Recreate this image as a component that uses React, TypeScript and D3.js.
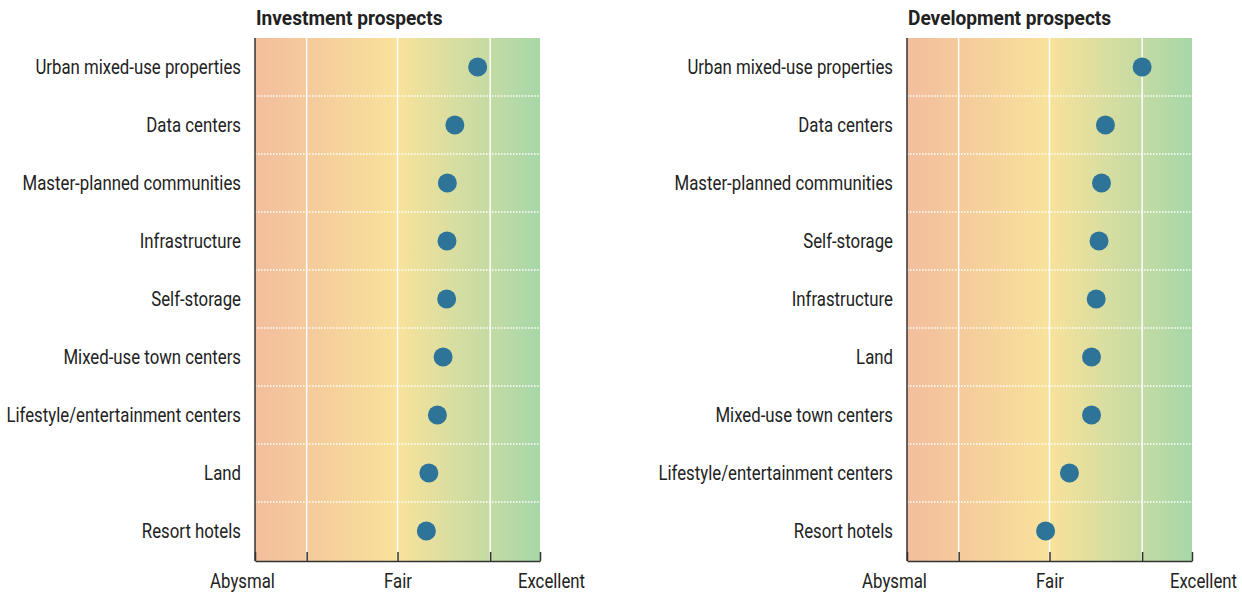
import React, { useEffect, useRef } from 'react';
import * as d3 from 'd3';

const investmentCategories = [
  'Urban mixed-use properties',
  'Data centers',
  'Master-planned communities',
  'Infrastructure',
  'Self-storage',
  'Mixed-use town centers',
  'Lifestyle/entertainment centers',
  'Land',
  'Resort hotels',
];
const investmentValues = [7.25, 6.61, 6.4, 6.39, 6.38, 6.28, 6.12, 5.88, 5.81];

const developmentCategories = [
  'Urban mixed-use properties',
  'Data centers',
  'Master-planned communities',
  'Self-storage',
  'Infrastructure',
  'Land',
  'Mixed-use town centers',
  'Lifestyle/entertainment centers',
  'Resort hotels',
];
const developmentValues = [7.6, 6.57, 6.46, 6.39, 6.31, 6.18, 6.18, 5.56, 4.89];

const tickValues = [1, 2.45, 5, 7.6, 9];
const tickLabels = ['Abysmal', '', 'Fair', '', 'Excellent'];
const gridValues = [2.45, 5, 7.6];

const FONT = 'Roboto, "DejaVu Sans", sans-serif';
const SQUEEZE = 0.84; // the original uses a condensed face

const panels = [
  { title: 'Investment prospects', categories: investmentCategories, values: investmentValues, x0: 255, id: 'inv' },
  { title: 'Development prospects', categories: developmentCategories, values: developmentValues, x0: 907, id: 'dev' },
];

function App() {
  const svgRef = useRef<SVGSVGElement>(null);

  useEffect(() => {
    const svg = d3.select(svgRef.current);
    svg.selectAll('*').remove();

    const plotW = 285;
    const top = 38;
    const bottom = 561;

    panels.forEach(p => {
      const x = d3.scaleLinear().domain([1, 9]).range([p.x0, p.x0 + plotW]);
      const y = d3.scaleBand().domain(p.categories).range([top, bottom - 1]);

      const grad = svg.append('defs').append('linearGradient')
        .attr('id', 'grad-' + p.id)
        .attr('x1', '0%').attr('x2', '100%').attr('y1', '0%').attr('y2', '0%');
      grad.append('stop').attr('offset', '0%').attr('stop-color', '#f3be9d');
      grad.append('stop').attr('offset', '25%').attr('stop-color', '#f5cf9c');
      grad.append('stop').attr('offset', '50%').attr('stop-color', '#f8e29b');
      grad.append('stop').attr('offset', '100%').attr('stop-color', '#a7d7a8');

      const g = svg.append('g');

      g.append('rect')
        .attr('x', x(1)).attr('y', top)
        .attr('width', x(9) - x(1)).attr('height', bottom - top)
        .attr('fill', `url(#grad-${p.id})`);

      // vertical gridlines
      g.selectAll('.vgrid')
        .data(gridValues)
        .enter()
        .append('line')
        .attr('x1', d => x(d)).attr('x2', d => x(d))
        .attr('y1', top).attr('y2', bottom)
        .attr('stroke', '#fff')
        .attr('stroke-width', 1.5);

      // dotted row separators
      g.selectAll('.hgrid')
        .data(p.categories.slice(1))
        .enter()
        .append('line')
        .attr('x1', x(1)).attr('x2', x(9))
        .attr('y1', d => y(d)!).attr('y2', d => y(d)!)
        .attr('stroke', '#fff')
        .attr('stroke-width', 1.3)
        .attr('stroke-dasharray', '1.5,1.5');

      // left axis line
      g.append('line')
        .attr('x1', x(1)).attr('x2', x(1))
        .attr('y1', top).attr('y2', bottom)
        .attr('stroke', '#333')
        .attr('stroke-width', 1.5);

      // bottom axis
      const axis = d3.axisBottom(x)
        .tickValues(tickValues)
        .tickFormat((d, i) => tickLabels[i])
        .tickSizeInner(-9)
        .tickSizeOuter(0)
        .tickPadding(13);

      const ag = g.append('g')
        .attr('transform', `translate(0,${bottom})`)
        .call(axis);
      ag.select('.domain').attr('stroke', '#333').attr('stroke-width', 1.5);
      ag.selectAll('.tick line').attr('stroke', '#333').attr('stroke-width', 1.5);
      // end labels sit a little outside the axis ends
      ag.selectAll('.tick text')
        .attr('fill', '#222')
        .attr('transform', (d, i) => {
          const shift = i === 0 ? -13 : i === tickValues.length - 1 ? 11 : 0;
          return `translate(${shift},0) scale(${SQUEEZE},1)`;
        })
        .style('font-family', FONT)
        .style('font-size', '20px');

      // category labels
      g.selectAll('.label')
        .data(p.categories)
        .enter()
        .append('text')
        .attr('transform', d => `translate(${x(1) - 14},${y(d)! + y.bandwidth() / 2}) scale(${SQUEEZE},1)`)
        .attr('dy', '0.35em')
        .attr('text-anchor', 'end')
        .attr('fill', '#222')
        .style('font-family', FONT)
        .style('font-size', '20px')
        .text(d => d);

      // dots
      g.selectAll('.dot')
        .data(p.values)
        .enter()
        .append('circle')
        .attr('cx', d => x(d))
        .attr('cy', (d, i) => y(p.categories[i])! + y.bandwidth() / 2)
        .attr('r', 9.5)
        .attr('fill', '#2e7499');

      // title
      g.append('text')
        .attr('transform', `translate(${x(1) + 1},25) scale(0.91,1)`)
        .attr('fill', '#222')
        .style('font-family', FONT)
        .style('font-size', '21px')
        .style('font-weight', 'bold')
        .text(p.title);
    });
  }, []);

  return (
    <svg
      ref={svgRef}
      width={1242}
      height={594}
      style={{ position: 'absolute', left: 0, top: 0, background: '#fff' }}
    ></svg>
  );
}

export default App;
